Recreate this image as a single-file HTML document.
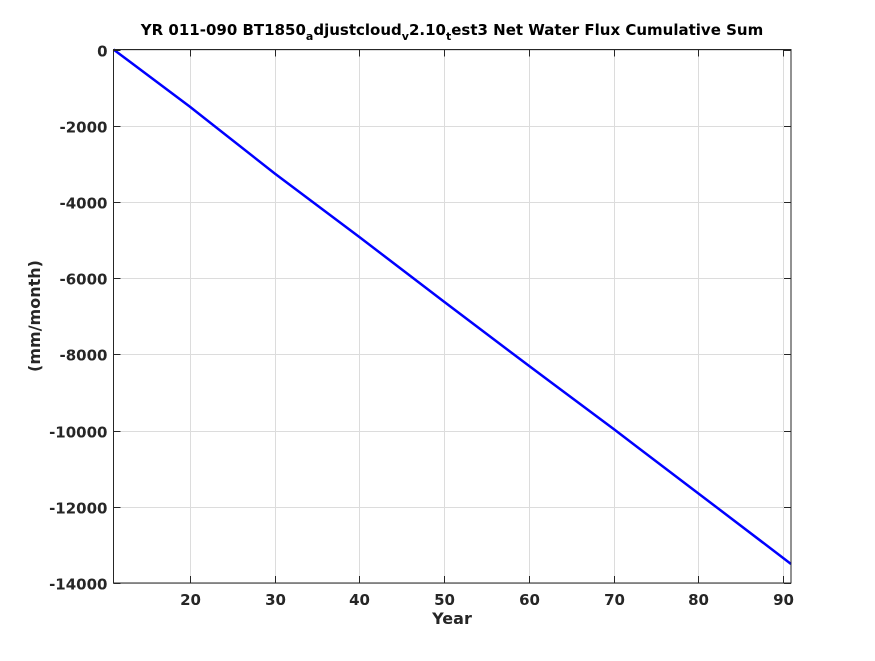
<!DOCTYPE html>
<html><head><meta charset="utf-8"><style>
body{margin:0;background:#fff;}
text{font-family:"DejaVu Sans","Liberation Sans",sans-serif;font-weight:bold;fill:#262626;}
</style></head><body>
<svg width="875" height="656" xmlns="http://www.w3.org/2000/svg">
<rect width="875" height="656" fill="#fff"/>
<g id="grid"></g>
<g id="series"></g>
<rect x="113.5" y="49.5" width="677.5" height="533.5" fill="none" stroke="#262626" stroke-width="1"/>
<g id="ticks"></g>
<text x="452" y="35" text-anchor="middle" font-size="15" style="fill:#000">YR 011-090 BT1850<tspan font-size="11" dy="5">a</tspan><tspan dy="-5">djustcloud</tspan><tspan font-size="11" dy="5">v</tspan><tspan dy="-5">2.10</tspan><tspan font-size="11" dy="5">t</tspan><tspan dy="-5">est3 Net Water Flux Cumulative Sum</tspan></text>
<text x="452" y="624" text-anchor="middle" font-size="16">Year</text>
<text transform="translate(40,316) rotate(-90)" text-anchor="middle" font-size="16">(mm/month)</text>
</svg>
<script>
const years=[11,20,30,40,50,60,70,80,90.92];
const values=[0,-1500,-3250,-4920,-6620,-8300,-9960,-11650,-13500];
const xTicks=[20,30,40,50,60,70,80,90];
const yTicks=[0,-2000,-4000,-6000,-8000,-10000,-12000,-14000];
const X0=113.5,X1=791,Y0=49.5,Y1=583;
const xmin=11,xmax=90.92,ymin=-14000,ymax=0;
const sx=v=>X0+(v-xmin)/(xmax-xmin)*(X1-X0);
const sy=v=>Y0+(ymax-v)/(ymax-ymin)*(Y1-Y0);
const NS="http://www.w3.org/2000/svg";
function mk(t,a,p){const e=document.createElementNS(NS,t);for(const k in a)e.setAttribute(k,a[k]);p.appendChild(e);return e;}
const grid=document.getElementById('grid'),ticks=document.getElementById('ticks'),series=document.getElementById('series');
xTicks.forEach(v=>{const x=Math.round(sx(v))+0.5;
 const g=mk('line',{x1:x,x2:x,y1:Y0,y2:Y1,stroke:'#dcdcdc','stroke-width':1},grid);
 
 const t1=mk('line',{x1:x,x2:x,y1:Y1,y2:Y1-7,stroke:'#262626'},ticks);
 
 const t2=mk('line',{x1:x,x2:x,y1:Y0,y2:Y0+7,stroke:'#262626'},ticks);
 
 const l=mk('text',{x:x,y:Y1+22,'text-anchor':'middle','font-size':15},ticks);l.textContent=v;
 });
yTicks.forEach(v=>{const y=Math.round(sy(v))+0.5;
 const g=mk('line',{x1:X0,x2:X1,y1:y,y2:y,stroke:'#dcdcdc','stroke-width':1},grid);
 
 const t1=mk('line',{x1:X0,x2:X0+7,y1:y,y2:y,stroke:'#262626'},ticks);
 
 const t2=mk('line',{x1:X1,x2:X1-7,y1:y,y2:y,stroke:'#262626'},ticks);
 
 const l=mk('text',{x:X0-6,y:y+6,'text-anchor':'end','font-size':15},ticks);l.textContent=v;
 });
const pl=mk('polyline',{points:years.map((v,i)=>sx(v)+','+sy(values[i])).join(' '),fill:'none',stroke:'#0000ff','stroke-width':2.5},series);

</script>
</body></html>
